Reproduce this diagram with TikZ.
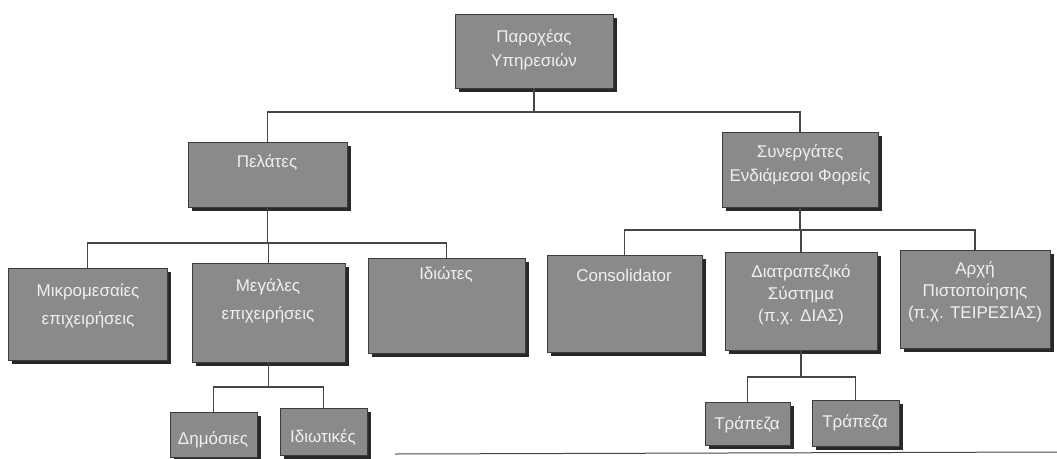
\documentclass[tikz,border=0pt]{standalone}
\usepackage{fontspec}
\setmainfont{Liberation Sans}
\usetikzlibrary{shadows}
\definecolor{boxgray}{RGB}{138,138,138}
\definecolor{edgegray}{RGB}{60,60,60}
\definecolor{shadowgray}{RGB}{40,40,40}
\definecolor{textlight}{RGB}{240,240,240}
\definecolor{linegray}{RGB}{70,70,70}
\begin{document}
\begin{tikzpicture}[x=1pt,y=-1pt,
  unit/.style={draw=edgegray, line width=0.8pt, fill=boxgray, anchor=north west,
    inner sep=0pt, outer sep=0pt,
    general shadow={fill=shadowgray, shadow xshift=4pt, shadow yshift=-4pt}},
  lbl/.style={text=textlight, font=\fontsize{17}{22}\selectfont, align=center, inner sep=0pt},
  conn/.style={draw=linegray, line width=1.1pt}]
\useasboundingbox (0,0) rectangle (1057,458);

% ---- boxes (top-left corner, width x height) ----
\node[unit, minimum width=158pt, minimum height=74pt] (top)     at (455,14)  {};
\node[unit, minimum width=159pt, minimum height=65pt] (pel)     at (188,142) {};
\node[unit, minimum width=156pt, minimum height=75pt] (syn)     at (722,132) {};
\node[unit, minimum width=159pt, minimum height=92pt] (mikro)   at (8,268)   {};
\node[unit, minimum width=153pt, minimum height=99pt] (megal)   at (192,263) {};
\node[unit, minimum width=157pt, minimum height=95pt] (idiot)   at (368,258) {};
\node[unit, minimum width=155pt, minimum height=97pt] (cons)    at (547,255) {};
\node[unit, minimum width=152pt, minimum height=98pt] (diat)    at (725,252) {};
\node[unit, minimum width=150pt, minimum height=98pt] (arxi)    at (900,250) {};
\node[unit, minimum width=87pt,  minimum height=45pt] (dim)     at (170,412) {};
\node[unit, minimum width=87pt,  minimum height=47pt] (idiotik) at (280,408) {};
\node[unit, minimum width=85pt,  minimum height=43pt] (trapA)   at (705,402) {};
\node[unit, minimum width=87pt,  minimum height=46pt] (trapB)   at (812,400) {};

% ---- labels ----
\node[lbl, font=\fontsize{17}{24}\selectfont] (topT) at (534,50)  {Παροχέας\\Υπηρεσιών};
\node[lbl] (pelT)  at (267,163) {Πελάτες};
\node[lbl, font=\fontsize{17}{24}\selectfont] (synT) at (800,165) {Συνεργάτες\\Ενδιάμεσοι Φορείς};
\node[lbl, font=\fontsize{17}{28}\selectfont] (mikroT) at (88,306)  {Μικρομεσαίες\\επιχειρήσεις};
\node[lbl, font=\fontsize{17}{28}\selectfont] (megalT) at (268,301) {Μεγάλες\\επιχειρήσεις};
\node[lbl] (idiotT) at (446,275) {Ιδιώτες};
\node[lbl] (consT)  at (624,275) {Consolidator};
\node[lbl] (diatT)  at (801,295) {Διατραπεζικό\\Σύστημα\\(π.χ. ΔΙΑΣ)};
\node[lbl] (arxiT)  at (975,292) {Αρχή\\Πιστοποίησης\\(π.χ. ΤΕΙΡΕΣΙΑΣ)};
\node[lbl] (dimT)   at (213,440) {Δημόσιες};
\node[lbl] (idiotikT) at (323,438) {Ιδιωτικές};
\node[lbl] (trapAT) at (747,425) {Τράπεζα};
\node[lbl] (trapBT) at (855,423) {Τράπεζα};

% ---- connectors ----
\coordinate (busA) at (top.south |- 0,112);
\draw[conn] (top.south) -- (busA);
\draw[conn] (busA) -| (pel.north);
\draw[conn] (busA) -| (syn.north);

\coordinate (busB) at (pel.south |- 0,243);
\draw[conn] (pel.south) -- (busB);
\draw[conn] (busB) -| (mikro.north);
\draw[conn] (busB) -| (megal.north);
\draw[conn] (busB) -| (idiot.north);

\coordinate (busC) at (syn.south |- 0,230);
\draw[conn] (syn.south) -- (busC);
\draw[conn] (busC) -| (cons.north);
\draw[conn] (busC) -| (diat.north);
\draw[conn] (busC) -| (arxi.north);

\coordinate (busD) at (megal.south |- 0,387);
\draw[conn] (megal.south) -- (busD);
\draw[conn] (busD) -| (dim.north);
\draw[conn] (busD) -| (idiotik.north);

\coordinate (busE) at (diat.south |- 0,377);
\draw[conn] (diat.south) -- (busE);
\draw[conn] (busE) -| (trapA.north);
\draw[conn] (busE) -| (trapB.north);

% ---- rule along the foot ----
\draw[draw=linegray, line width=1pt] (395,454) -- (1057,452);
\end{tikzpicture}
\end{document}
